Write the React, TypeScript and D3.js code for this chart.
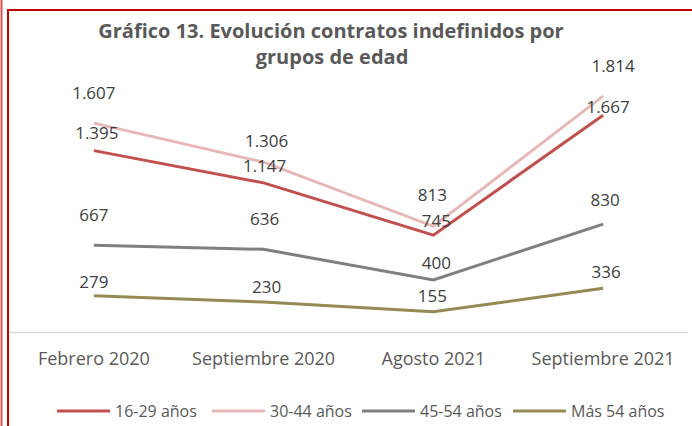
import React, { useRef, useEffect } from "react";
import * as d3 from "d3";

const categories = ["Febrero 2020", "Septiembre 2020", "Agosto 2021", "Septiembre 2021"];
const seriesNames = ["16-29 años", "30-44 años", "45-54 años", "Más 54 años"];
const seriesColors = ["#C0504D", "#E6B9B8", "#7F7F7F", "#948A54"];
const v1629 = [1395, 1147, 745, 1667];
const v3044 = [1607, 1306, 813, 1814];
const v4554 = [667, 636, 400, 830];
const v54 = [279, 230, 155, 336];
// label offsets (dx, dy) relative to point, as placed in the original
const labelOffsets = [
  [[3, -18], [1, -17], [3, -14], [5, -8]],
  [[0, -30], [3, -21], [-1, -31], [10, -30]],
  [[0, -30], [1, -30], [3, -17], [2, -24]],
  [[0, -14], [3, -15], [-1, -16], [3, -16]],
];

const fmt = (v: number) => d3.format(",")(v).replace(/,/g, ".");

const App = () => {
  const svgRef = useRef<SVGSVGElement>(null);
  const width = 692;
  const height = 426;

  useEffect(() => {
    const svg = d3.select(svgRef.current);
    svg.selectAll("*").remove();
    const font = "'Open Sans', Calibri, sans-serif";
    const series = [v1629, v3044, v4554, v54];

    svg.append("rect").attr("width", width).attr("height", height).attr("fill", "#fff");

    // borders
    svg.append("line").attr("x1", 1.5).attr("x2", 1.5).attr("y1", 0).attr("y2", height)
      .attr("stroke", "#D9534F").attr("stroke-width", 2);
    svg.append("line").attr("x1", 8).attr("x2", 8).attr("y1", 9).attr("y2", height)
      .attr("stroke", "#C00000").attr("stroke-width", 2);
    svg.append("line").attr("x1", 7).attr("x2", width).attr("y1", 10).attr("y2", 10)
      .attr("stroke", "#C00000").attr("stroke-width", 2);

    const x = d3.scaleBand().domain(categories).range([9, 688]);
    const y = d3.scaleLinear().domain([0, 2000]).range([332, 72]);
    const cx = (c: string) => (x(c) as number) + x.bandwidth() / 2;

    // title
    svg.append("text").attr("x", 331).attr("y", 38).attr("text-anchor", "middle")
      .attr("font-family", font).attr("font-weight", "bold").attr("font-size", 20)
      .attr("fill", "#595959").text("Gráfico 13. Evolución contratos indefinidos por");
    svg.append("text").attr("x", 332).attr("y", 64).attr("text-anchor", "middle")
      .attr("font-family", font).attr("font-weight", "bold").attr("font-size", 20)
      .attr("fill", "#595959").text("grupos de edad");

    // x axis baseline
    svg.append("line").attr("x1", 9).attr("x2", 688).attr("y1", 332.5).attr("y2", 332.5)
      .attr("stroke", "#D9D9D9").attr("stroke-width", 1.5);

    svg.append("g").selectAll("text").data(categories).enter().append("text")
      .attr("x", (d) => cx(d)).attr("y", 365).attr("text-anchor", "middle")
      .attr("font-family", font).attr("font-size", 18).attr("fill", "#595959").text((d) => d);

    const line = d3.line<number>().x((_, i) => cx(categories[i])).y((d) => y(d));

    series.forEach((vals, si) => {
      svg.append("path").datum(vals).attr("fill", "none")
        .attr("stroke", seriesColors[si]).attr("stroke-width", 3)
        .attr("d", line);
    });

    series.forEach((vals, si) => {
      svg.append("g").selectAll("text").data(vals).enter().append("text")
        .attr("x", (_, i) => cx(categories[i]) + labelOffsets[si][i][0])
        .attr("y", (d, i) => y(d) + labelOffsets[si][i][1])
        .attr("dy", "0.35em").attr("text-anchor", "middle")
        .attr("font-family", font).attr("font-size", 17).attr("fill", "#404040")
        .text((d) => fmt(d));
    });

    // legend
    const legendX = [57, 212, 362, 513];
    const lg = svg.append("g").selectAll("g").data(seriesNames).enter().append("g")
      .attr("transform", (_, i) => `translate(${legendX[i]},411)`);
    lg.append("line").attr("x1", 0).attr("x2", 53).attr("y1", 0).attr("y2", 0)
      .attr("stroke", (_, i) => seriesColors[i]).attr("stroke-width", 3);
    lg.append("text").attr("x", 58).attr("y", 0).attr("dy", "0.35em")
      .attr("font-family", font).attr("font-size", 16).attr("fill", "#595959")
      .text((d) => d);
  }, []);

  return <svg ref={svgRef} width={width} height={height} style={{ position: "absolute", left: 0, top: 0 }} />;
};

export default App;
